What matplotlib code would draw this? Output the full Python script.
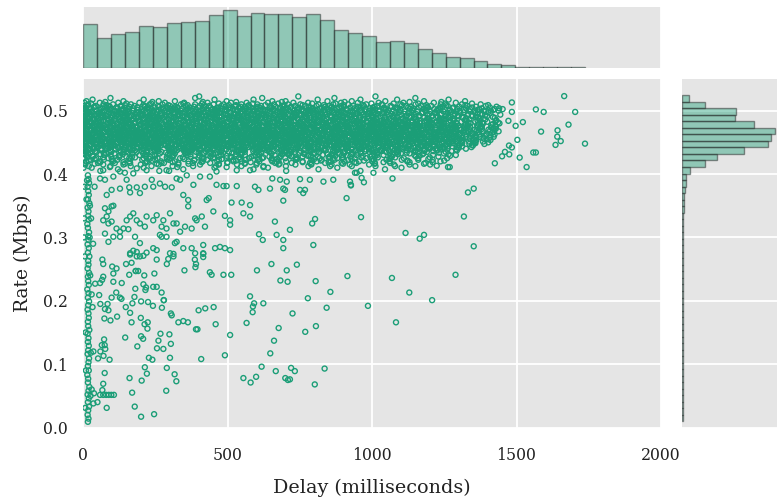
import matplotlib
matplotlib.use("Agg")
import matplotlib.pyplot as plt
import numpy as np

# ---------------- data ----------------
# dense band: one list of delays (ms) per rate level (Mbps)
BAND_RATES = [0.5225, 0.5200, 0.5175, 0.5150, 0.5125, 0.5100, 0.5075, 0.5050, 0.5025, 0.5000,
              0.4975, 0.4950, 0.4925, 0.4900, 0.4875, 0.4850, 0.4825, 0.4800, 0.4775, 0.4750,
              0.4725, 0.4700, 0.4675, 0.4650, 0.4625, 0.4600, 0.4575, 0.4550, 0.4525, 0.4500,
              0.4475, 0.4450, 0.4425, 0.4400, 0.4375, 0.4350, 0.4325, 0.4300, 0.4275, 0.4250,
              0.4225, 0.4200, 0.4175, 0.4150, 0.4125, 0.4100, 0.4075, 0.4050]
BAND_DELAYS = [
    [402, 745, 1012],
    [95, 388, 620, 1150, 870],
    [33, 210, 455, 590, 812, 960, 1087, 1265],
    [12, 140, 262, 318, 497, 655, 701, 846, 930, 1046, 1180, 1322],
    [5, 58, 122, 195, 283, 350, 431, 512, 566, 640, 728, 779, 893, 951, 1023, 1109, 1214, 1290],
    [18, 71, 104, 166, 231, 275, 339, 388, 452, 487, 548, 603, 661, 709, 752, 815, 866, 917, 980, 1034, 1098, 1151, 1238, 1311, 1376],
    [2, 44, 89, 131, 178, 214, 259, 301, 356, 404, 437, 479, 527, 571, 616, 648, 689, 734, 770, 808, 853, 894, 935, 972, 1018, 1064, 1117, 1169, 1205, 1262, 1330, 1394],
    [9, 37, 82, 115, 151, 188, 226, 248, 291, 327, 369, 398, 441, 468, 505, 539, 580, 611, 647, 683, 718, 744, 788, 826, 859, 887, 925, 961, 1003, 1042, 1081, 1125, 1163, 1194, 1236, 1281, 1347, 1408],
    [4, 26, 61, 97, 138, 159, 203, 238, 270, 312, 341, 379, 413, 446, 482, 519, 552, 588, 623, 657, 692, 725, 757, 791, 820, 849, 880, 912, 946, 978, 1011, 1049, 1090, 1132, 1178, 1215, 1252, 1296, 1339, 1371, 1425, 1452],
    [14, 48, 76, 109, 147, 172, 211, 245, 283, 306, 338, 374, 409, 430, 466, 497, 531, 560, 596, 629, 664, 697, 731, 763, 795, 831, 862, 896, 925, 958, 990, 1027, 1058, 1099, 1141, 1186, 1224, 1268, 1303, 1355, 1389, 1411, 535, 780, 1001],
    [7, 31, 66, 90, 128, 155, 191, 222, 257, 290, 318, 352, 387, 421, 449, 476, 509, 544, 575, 602, 638, 671, 703, 739, 771, 802, 838, 870, 903, 935, 966, 1009, 1053, 1094, 1137, 1174, 1219, 1274, 1318, 1366, 1402, 20, 465, 690, 884],
    [1, 39, 55, 118, 134, 180, 199, 234, 266, 297, 329, 361, 395, 438, 459, 491, 523, 551, 584, 617, 649, 681, 712, 748, 781, 813, 845, 877, 914, 951, 984, 1021, 1067, 1112, 1152, 1199, 1241, 1287, 1333, 1382, 86, 404, 626, 797, 943],
    [11, 42, 79, 101, 143, 166, 207, 241, 273, 302, 336, 370, 400, 427, 463, 500, 535, 566, 593, 627, 660, 694, 726, 756, 788, 823, 855, 889, 921, 957, 996, 1037, 1079, 1121, 1164, 1209, 1257, 1297, 1348, 1391, 230, 512, 735, 1000, 60],
    [3, 24, 68, 95, 123, 161, 185, 217, 249, 282, 315, 345, 378, 412, 443, 472, 505, 538, 570, 606, 634, 668, 699, 733, 765, 799, 830, 861, 896, 929, 961, 1004, 1045, 1086, 1129, 1181, 1228, 1263, 1311, 1359, 1418, 145, 455, 820, 1150],
    [16, 50, 83, 112, 150, 176, 213, 229, 262, 294, 323, 356, 391, 425, 456, 487, 518, 548, 581, 613, 645, 677, 707, 742, 774, 806, 843, 873, 908, 940, 974, 1014, 1061, 1103, 1146, 1193, 1245, 1281, 1326, 1372, 37, 597, 722, 989, 1234],
    [6, 35, 73, 106, 137, 169, 194, 226, 260, 288, 321, 349, 384, 417, 446, 479, 514, 546, 573, 609, 641, 673, 711, 745, 777, 809, 836, 868, 899, 932, 969, 1008, 1050, 1092, 1138, 1187, 1232, 1270, 1321, 1365, 1430, 253, 534, 864, 1116],
    [10, 45, 63, 99, 130, 158, 192, 219, 251, 285, 312, 347, 381, 406, 440, 470, 502, 529, 563, 591, 624, 657, 686, 720, 753, 783, 817, 850, 881, 916, 948, 980, 1018, 1056, 1098, 1140, 1182, 1223, 1266, 1309, 1357, 1399, 23, 368, 653, 905, 1074, 1200],
    [2, 28, 57, 87, 121, 146, 179, 208, 236, 271, 300, 331, 365, 392, 423, 458, 488, 520, 554, 579, 612, 646, 679, 714, 747, 776, 810, 842, 876, 909, 938, 971, 1006, 1043, 1084, 1125, 1167, 1210, 1249, 1294, 1341, 1385, 1441, 164, 433, 700, 955, 1031, 1106, 1258],
    [13, 40, 71, 103, 133, 163, 197, 223, 256, 291, 319, 354, 382, 414, 447, 481, 511, 541, 576, 604, 637, 670, 702, 730, 762, 794, 828, 859, 891, 924, 958, 992, 1029, 1068, 1107, 1148, 1190, 1233, 1276, 1322, 1364, 1413, 56, 305, 560, 841, 1016, 1123, 1211, 745, 487, 244],
    [4, 32, 61, 92, 125, 152, 183, 214, 244, 276, 307, 339, 372, 401, 433, 462, 497, 527, 557, 589, 622, 654, 687, 718, 751, 785, 815, 847, 880, 913, 944, 977, 1011, 1049, 1087, 1126, 1166, 1205, 1248, 1290, 1339, 1380, 1429, 20, 167, 298, 521, 610, 768, 892, 1000, 1060, 1142, 740, 410],
    [8, 37, 66, 96, 117, 140, 173, 204, 232, 263, 295, 326, 358, 389, 419, 451, 484, 513, 546, 573, 606, 639, 669, 703, 735, 767, 800, 833, 866, 899, 929, 963, 997, 1034, 1072, 1113, 1152, 1194, 1237, 1281, 1327, 1374, 1420, 50, 247, 471, 659, 787, 953, 1092, 1175, 390, 561, 880, 1016, 1262, 1303, 148],
    [1, 26, 53, 84, 111, 143, 170, 198, 227, 258, 287, 316, 347, 377, 408, 438, 468, 499, 531, 562, 593, 626, 657, 689, 722, 754, 786, 819, 853, 884, 918, 950, 985, 1021, 1057, 1096, 1135, 1178, 1219, 1263, 1308, 1356, 1403, 39, 218, 402, 584, 728, 870, 1004, 1117, 1202, 1290, 633, 335, 126, 970, 1046, 487, 805],
    [12, 43, 72, 101, 129, 158, 187, 216, 246, 274, 303, 333, 364, 394, 426, 455, 485, 516, 548, 578, 610, 642, 674, 706, 738, 771, 803, 837, 869, 902, 934, 967, 1002, 1040, 1077, 1115, 1158, 1199, 1243, 1286, 1332, 1383, 1438, 90, 265, 430, 599, 761, 921, 1025, 1145, 1230, 352, 690, 540, 1095, 180, 835, 1270, 1010],
    [5, 31, 59, 88, 120, 149, 177, 206, 237, 266, 295, 324, 355, 385, 415, 447, 476, 506, 538, 569, 601, 634, 665, 697, 729, 761, 794, 826, 860, 893, 925, 959, 993, 1030, 1066, 1104, 1143, 1185, 1227, 1270, 1317, 1365, 1415, 70, 240, 415, 570, 745, 905, 1050, 1167, 1254, 330, 655, 812, 980, 1120, 495, 160, 1345],
    [9, 35, 64, 93, 124, 153, 182, 211, 241, 270, 299, 329, 360, 390, 421, 452, 481, 511, 543, 574, 606, 638, 670, 702, 734, 766, 799, 831, 864, 896, 930, 963, 998, 1035, 1071, 1109, 1149, 1190, 1232, 1276, 1323, 1371, 1424, 18, 195, 370, 550, 717, 885, 1016, 1084, 1213, 283, 622, 780, 944, 1160, 470, 112, 1300],
    [3, 22, 57, 79, 116, 141, 167, 203, 225, 262, 281, 318, 344, 373, 405, 431, 466, 492, 527, 553, 586, 615, 649, 676, 713, 741, 772, 808, 839, 867, 901, 937, 969, 1007, 1048, 1083, 1128, 1161, 1207, 1247, 1296, 1342, 1391, 46, 187, 352, 509, 697, 858, 1030, 1138, 1222, 441, 600, 790, 953, 1100, 250],
    [14, 47, 69, 108, 131, 160, 193, 219, 252, 279, 310, 337, 366, 398, 424, 459, 487, 519, 545, 579, 608, 641, 668, 701, 733, 759, 792, 824, 855, 888, 922, 954, 988, 1024, 1062, 1101, 1143, 1181, 1225, 1267, 1313, 1361, 1409, 30, 205, 377, 534, 715, 880, 1045, 1170, 1285, 92, 620, 760, 940, 1080, 450],
    [0, 29, 51, 85, 114, 137, 174, 196, 231, 257, 289, 321, 350, 381, 412, 440, 473, 501, 534, 561, 597, 624, 658, 685, 721, 748, 781, 815, 846, 878, 910, 945, 978, 1013, 1052, 1090, 1131, 1173, 1216, 1258, 1304, 1353, 1400, 65, 232, 398, 567, 738, 898, 1038, 1157, 1237, 143, 485, 650, 830, 995, 1120],
    [8, 38, 62, 98, 126, 155, 186, 214, 243, 273, 302, 331, 362, 392, 420, 452, 483, 511, 541, 571, 603, 632, 664, 694, 727, 756, 788, 821, 851, 884, 917, 949, 983, 1019, 1057, 1096, 1137, 1179, 1221, 1265, 1311, 1358, 25, 178, 347, 521, 683, 853, 1006, 1110, 1198, 270, 577, 740, 960, 1280],
    [5, 33, 74, 91, 119, 151, 179, 208, 239, 268, 296, 328, 355, 386, 417, 445, 477, 506, 537, 566, 595, 628, 660, 690, 719, 752, 784, 817, 848, 881, 913, 947, 980, 1016, 1054, 1093, 1134, 1176, 1218, 1262, 1309, 1356, 1402, 48, 222, 390, 555, 710, 872, 1028, 1152, 1241, 130, 460, 805, 1070],
    [11, 41, 67, 104, 133, 163, 190, 221, 250, 279, 309, 340, 369, 399, 430, 461, 490, 522, 551, 582, 613, 645, 675, 707, 739, 770, 803, 834, 867, 900, 933, 965, 1000, 1037, 1075, 1115, 1156, 1199, 1243, 1289, 1337, 1389, 60, 235, 409, 586, 749, 918, 1062, 1180, 1268, 155, 500, 660, 890],
    [2, 27, 58, 82, 110, 145, 171, 200, 227, 259, 287, 317, 346, 376, 403, 436, 466, 496, 525, 556, 588, 620, 651, 683, 715, 745, 777, 811, 842, 874, 907, 940, 973, 1009, 1046, 1085, 1125, 1168, 1212, 1255, 1301, 1349, 95, 270, 440, 615, 780, 955, 1100, 1190, 520, 860],
    [15, 49, 87, 121, 157, 189, 228, 261, 294, 330, 365, 397, 434, 468, 503, 539, 574, 607, 642, 676, 711, 743, 779, 812, 846, 879, 915, 950, 987, 1025, 1066, 1108, 1151, 1196, 1242, 1293, 1344, 38, 200, 380, 548, 720, 895, 1048, 1160, 1235, 640, 970],
    [6, 40, 84, 113, 158, 188, 231, 260, 305, 333, 377, 406, 452, 479, 524, 551, 597, 625, 669, 696, 742, 767, 813, 838, 884, 911, 958, 989, 1038, 1071, 1125, 1161, 1219, 1262, 1325, 62, 245, 430, 610, 790, 965, 1105, 1200, 355],
    [21, 63, 94, 143, 170, 222, 248, 298, 325, 377, 404, 455, 480, 532, 556, 609, 636, 686, 713, 764, 788, 840, 866, 918, 944, 999, 1029, 1085, 1120, 1183, 1225, 1294, 3, 180, 360, 540, 700, 880, 1058, 1150],
    [9, 47, 98, 131, 186, 219, 271, 303, 358, 391, 444, 476, 531, 560, 617, 645, 701, 733, 788, 816, 872, 901, 960, 990, 1049, 1087, 1148, 1190, 1255, 310, 505, 720, 905, 1010, 140],
    [17, 72, 109, 171, 208, 266, 318, 355, 419, 458, 515, 549, 616, 652, 714, 763, 801, 866, 903, 962, 1018, 1061, 1130, 1178, 1249, 80, 440, 690, 930, 1100],
    [12, 75, 128, 196, 247, 314, 362, 431, 478, 547, 596, 663, 713, 781, 829, 897, 947, 1018, 1072, 1147, 1211, 240, 560, 860, 1040, 1290],
    [35, 98, 170, 232, 309, 372, 441, 512, 583, 645, 722, 788, 853, 925, 994, 1069, 1152, 1230, 150, 470, 760, 1010],
    [4, 88, 160, 258, 336, 411, 497, 575, 654, 741, 819, 897, 980, 1064, 1159, 1260, 620, 300, 880, 45, 210, 450, 700, 940, 1110],
    [27, 119, 205, 297, 385, 470, 563, 652, 737, 826, 918, 1006, 1103, 1210, 430, 790, 72, 250, 520, 605, 870, 1050, 1160],
    [11, 104, 222, 318, 414, 521, 610, 703, 809, 905, 1001, 1122, 1237, 550, 58, 160, 270, 365, 465, 655, 760, 858, 955, 1060],
    [52, 163, 272, 380, 499, 601, 722, 838, 946, 1063, 1185, 280, 5, 110, 215, 330, 440, 560, 665, 785, 895, 1010],
    [8, 140, 262, 405, 533, 677, 790, 923, 1076, 1201, 70, 200, 330, 470, 600, 735, 860, 990, 1130],
    [95, 237, 381, 548, 702, 855, 1012, 1150, 20, 165, 310, 460, 625, 780, 930, 1080],
    [30, 210, 455, 640, 880, 1102],
    [121, 347, 590, 815, 1045],
    [60, 298, 703, 960],
]

# more band points, between the rate levels above
BAND_FILL_RATES = [0.51375, 0.51125, 0.50875, 0.50625, 0.50375, 0.50125, 0.49875, 0.49625, 0.49375, 0.49125,
                   0.48875, 0.48625, 0.48375, 0.48125, 0.47875, 0.47625, 0.47375, 0.47125, 0.46875, 0.46625,
                   0.46375, 0.46125, 0.45875, 0.45625, 0.45375, 0.45125, 0.44875, 0.44625, 0.44375, 0.44125,
                   0.43875, 0.43625, 0.43375, 0.43125, 0.42875, 0.42625, 0.42375, 0.42125, 0.41875, 0.41625]
BAND_FILL_DELAYS = [
    [77, 240, 415, 688, 905, 1130, 1240, 530],
    [28, 150, 236, 347, 470, 588, 676, 793, 874, 998, 1075, 1160, 1253, 1346, 412],
    [15, 81, 146, 209, 295, 362, 419, 505, 574, 631, 697, 760, 833, 902, 968, 1036, 1104, 1188, 1257, 1323, 1402, 530],
    [40, 93, 160, 215, 264, 320, 384, 425, 493, 545, 604, 667, 720, 781, 837, 904, 950, 1009, 1068, 1134, 1191, 1244, 1302, 1360, 1431, 130, 560, 860],
    [22, 67, 120, 174, 220, 277, 318, 361, 419, 462, 511, 563, 600, 652, 705, 749, 796, 843, 895, 940, 992, 1040, 1087, 1142, 1189, 1231, 1279, 1326, 1380, 1440, 680, 300],
    [8, 57, 92, 133, 190, 228, 262, 321, 358, 390, 448, 492, 525, 577, 613, 660, 701, 741, 785, 834, 870, 913, 963, 1004, 1047, 1096, 1140, 1184, 1228, 1270, 1318, 1366, 1420, 460, 812],
    [30, 71, 118, 160, 201, 242, 297, 330, 365, 402, 456, 489, 550, 588, 631, 682, 716, 760, 808, 850, 891, 933, 976, 1024, 1071, 1113, 1159, 1201, 1247, 1291, 1338, 1388, 15, 572, 1000],
    [12, 53, 98, 148, 186, 217, 270, 312, 341, 382, 432, 470, 511, 568, 607, 643, 692, 731, 770, 825, 866, 907, 947, 990, 1035, 1080, 1126, 1171, 1216, 1263, 1306, 1357, 1410, 240, 780],
    [25, 65, 108, 153, 196, 254, 283, 327, 374, 410, 450, 494, 538, 580, 620, 665, 709, 753, 797, 839, 885, 926, 969, 1012, 1057, 1101, 1145, 1193, 1238, 1285, 1331, 1380, 1444, 120, 690],
    [4, 47, 85, 130, 176, 225, 259, 305, 352, 391, 437, 480, 516, 559, 604, 646, 686, 727, 773, 816, 861, 902, 944, 988, 1030, 1074, 1118, 1163, 1207, 1254, 1300, 1346, 1398, 330, 900],
    [19, 62, 100, 141, 190, 235, 276, 314, 359, 403, 448, 497, 533, 571, 618, 658, 702, 741, 786, 830, 875, 917, 955, 1001, 1043, 1088, 1133, 1178, 1222, 1266, 1315, 1367, 1425, 540, 260],
    [9, 41, 90, 126, 168, 208, 250, 298, 333, 376, 420, 461, 506, 545, 590, 632, 673, 716, 760, 799, 843, 888, 929, 972, 1017, 1060, 1106, 1150, 1196, 1240, 1284, 1337, 1392, 600, 870],
    [27, 71, 113, 147, 195, 238, 266, 309, 349, 394, 431, 474, 520, 556, 600, 641, 683, 731, 767, 812, 856, 895, 937, 981, 1026, 1066, 1111, 1155, 1200, 1238, 1282, 1327, 1374, 1428, 5, 464, 700, 1090],
    [14, 52, 94, 135, 180, 214, 255, 296, 340, 377, 419, 459, 498, 540, 584, 626, 664, 707, 749, 790, 831, 873, 914, 957, 998, 1040, 1081, 1123, 1164, 1206, 1247, 1290, 1334, 1382, 1436, 230, 560, 830, 1015, 1190],
    [6, 46, 81, 118, 157, 197, 236, 277, 318, 357, 395, 437, 474, 516, 553, 594, 633, 675, 713, 755, 793, 835, 874, 915, 953, 994, 1035, 1075, 1116, 1157, 1198, 1240, 1282, 1325, 1370, 1418, 140, 420, 690, 960, 1100, 1230],
    [20, 58, 95, 136, 172, 210, 251, 289, 327, 368, 406, 445, 484, 524, 565, 603, 642, 681, 720, 760, 800, 838, 877, 917, 956, 996, 1037, 1078, 1119, 1160, 1201, 1243, 1287, 1331, 1377, 1427, 75, 350, 620, 900, 1050, 1175, 1300, 500],
    [3, 41, 77, 112, 150, 188, 225, 264, 301, 338, 376, 414, 452, 491, 529, 568, 606, 645, 684, 723, 761, 800, 838, 877, 915, 954, 993, 1032, 1071, 1111, 1151, 1192, 1234, 1276, 1320, 1365, 1412, 230, 470, 720, 980, 1140, 1255, 95, 590, 860],
    [13, 49, 86, 121, 159, 194, 232, 268, 305, 342, 379, 417, 454, 490, 527, 565, 601, 638, 676, 713, 749, 787, 825, 862, 899, 937, 975, 1013, 1052, 1090, 1129, 1169, 1209, 1250, 1292, 1335, 1380, 1428, 260, 505, 770, 1000, 1170, 1270, 60, 640, 880, 1110],
    [29, 66, 101, 139, 176, 213, 250, 286, 323, 361, 398, 435, 472, 509, 547, 584, 621, 659, 696, 733, 771, 809, 846, 884, 921, 959, 998, 1036, 1075, 1114, 1153, 1193, 1234, 1275, 1318, 1362, 1409, 10, 190, 440, 700, 950, 1130, 1240, 340, 590, 820, 1060],
    [2, 39, 75, 110, 148, 185, 221, 258, 294, 331, 369, 405, 442, 479, 516, 553, 590, 628, 664, 702, 739, 776, 814, 851, 889, 927, 965, 1003, 1042, 1081, 1120, 1160, 1200, 1241, 1283, 1326, 1371, 1420, 120, 375, 620, 870, 1100, 1215, 285, 530, 780, 1020],
    [18, 56, 93, 129, 167, 202, 240, 277, 313, 350, 388, 424, 461, 498, 535, 572, 609, 647, 684, 721, 758, 795, 833, 871, 908, 946, 984, 1022, 1061, 1100, 1140, 1180, 1220, 1262, 1305, 1349, 1396, 35, 225, 490, 745, 990, 1160, 1290, 400, 660, 905, 1075],
    [7, 45, 82, 119, 157, 193, 230, 268, 304, 342, 379, 416, 453, 490, 528, 565, 602, 640, 677, 714, 752, 790, 827, 865, 903, 941, 980, 1018, 1057, 1096, 1136, 1176, 1217, 1259, 1302, 1347, 1395, 150, 410, 670, 935, 1140, 1250, 560, 300, 1020],
    [24, 61, 98, 136, 173, 210, 247, 285, 322, 359, 396, 433, 471, 508, 545, 583, 620, 657, 695, 732, 770, 808, 845, 883, 921, 960, 998, 1037, 1076, 1116, 1156, 1197, 1238, 1281, 1325, 1372, 1421, 80, 345, 600, 860, 1090, 1205, 465, 720, 975],
    [1, 34, 71, 108, 145, 182, 219, 256, 294, 331, 368, 405, 442, 480, 517, 554, 592, 629, 666, 704, 741, 779, 817, 855, 893, 931, 970, 1009, 1048, 1087, 1127, 1167, 1208, 1250, 1293, 1338, 1386, 200, 455, 715, 960, 1150, 1275, 590, 330, 845],
    [15, 53, 90, 127, 164, 201, 238, 276, 313, 350, 387, 424, 462, 499, 536, 574, 611, 648, 686, 723, 761, 799, 836, 874, 912, 951, 989, 1028, 1067, 1107, 1147, 1188, 1229, 1271, 1315, 1361, 1410, 105, 370, 630, 895, 1110, 1230, 500, 770],
    [30, 66, 103, 141, 178, 215, 252, 290, 327, 364, 401, 439, 476, 513, 551, 588, 625, 663, 700, 738, 776, 813, 851, 890, 928, 967, 1006, 1045, 1085, 1125, 1165, 1206, 1248, 1291, 1336, 1384, 10, 260, 520, 790, 1040, 1195, 1310, 410, 690],
    [5, 43, 80, 117, 155, 192, 229, 266, 304, 341, 378, 416, 453, 490, 528, 565, 603, 640, 678, 716, 753, 791, 829, 867, 906, 944, 983, 1022, 1062, 1102, 1142, 1183, 1225, 1268, 1312, 1358, 175, 440, 705, 965, 1160, 1280, 600, 330],
    [21, 59, 97, 135, 172, 210, 247, 285, 323, 360, 398, 436, 474, 511, 549, 587, 625, 663, 701, 739, 777, 815, 854, 892, 931, 970, 1009, 1049, 1089, 1130, 1171, 1213, 1256, 1300, 1346, 60, 320, 580, 840, 1080, 1235, 470],
    [11, 52, 92, 133, 174, 214, 255, 296, 336, 377, 418, 459, 499, 540, 581, 622, 663, 704, 745, 786, 828, 869, 911, 953, 995, 1038, 1081, 1125, 1170, 1216, 1263, 1312, 230, 500, 770, 1020, 1190, 650],
    [34, 78, 122, 165, 209, 253, 297, 340, 384, 428, 472, 516, 560, 604, 648, 692, 736, 781, 825, 870, 915, 960, 1006, 1052, 1099, 1147, 1196, 1247, 1300, 5, 380, 600, 880, 1120, 250],
    [18, 66, 113, 161, 209, 256, 304, 352, 400, 448, 496, 544, 592, 640, 688, 736, 784, 833, 881, 930, 979, 1029, 1079, 1130, 1182, 1236, 1291, 140, 430, 720, 990, 560],
    [42, 96, 151, 205, 260, 315, 369, 424, 479, 534, 589, 644, 699, 754, 809, 865, 921, 977, 1034, 1092, 1151, 1212, 1275, 8, 350, 660, 940, 1180],
    [25, 90, 156, 221, 287, 353, 419, 485, 551, 617, 683, 749, 816, 883, 950, 1018, 1087, 1158, 1232, 400, 800, 1120, 170, 600],
    [60, 138, 216, 294, 372, 451, 530, 609, 688, 767, 847, 927, 1008, 1090, 1175, 1265, 5, 450, 860, 300],
    [33, 125, 218, 311, 404, 497, 590, 684, 778, 873, 968, 1065, 1165, 1270, 250, 720, 1000],
    [70, 180, 290, 400, 512, 624, 737, 850, 964, 1080, 1200, 15, 540, 900, 125, 345, 455, 680, 795, 1020],
    [40, 165, 291, 417, 544, 672, 800, 929, 1060, 1195, 350, 740, 100, 230, 480, 610, 865, 1000],
    [100, 240, 385, 530, 676, 823, 972, 1123, 1250, 20],
    [60, 220, 410, 580, 760, 940, 1130, 310, 140, 500, 670, 850, 1040, 1210],
    [145, 365, 560, 790, 1010, 1180, 40, 255, 470, 680, 900],
]

# scattered points outside the dense band (delay ms, rate Mbps)
OUT_DELAY = [
    1665, 1567, 1594, 1703, 1680, 1642, 1585, 1641, 1653, 1635, 1737, 1558, 1567, 1522, 1511, 1535,
    1484, 1484, 1497, 1503, 1484, 1475, 1425, 1450, 1460, 1474, 1438, 1472,
    1071, 964, 972, 941, 1005, 927, 962, 1116, 1165, 1180, 1318, 1332, 1352, 1352, 1263, 1269, 1224,
    1069, 1129, 1208, 1289, 986, 1083,
    67, 70, 101, 116, 105, 163, 186, 174, 160, 149, 168, 183, 209, 220, 255, 247, 290, 295, 313,
    351, 387, 391, 389, 416, 416, 439, 445, 486, 513, 652, 602, 705, 740, 683, 708, 805, 915,
    578, 592, 588, 587, 624, 566, 677, 661, 648, 725, 769, 806, 843, 778, 856,
    509, 491, 459, 452, 423, 400, 409, 391, 396, 363, 347, 330, 304, 307, 279, 272, 243, 255, 218, 216, 209, 212,
    618, 555, 580, 599, 667, 700, 709, 716, 720, 733, 802, 836, 290, 317, 323, 288, 221, 214, 203, 161, 170,
    179, 201, 246, 82, 75, 70, 67, 59, 70, 80, 89, 98, 107, 50, 36, 38,
    74, 95, 118, 73, 75, 65, 77, 60, 71, 92, 52, 146, 201, 208, 188, 228, 240, 261, 268, 299, 304, 256, 278,
    301, 213, 224, 223, 200, 168, 242, 273, 280, 171, 163, 148, 201, 225, 178, 181, 133, 128, 115, 99, 85,
    76, 88, 60, 56, 42, 59, 66, 70, 105, 134, 182, 191,
    70, 93, 128, 145, 174, 186, 220, 264, 289, 326, 359, 405, 439, 462, 497, 532, 578, 624, 655, 682,
    705, 751, 785, 832, 866, 924, 947,
    59, 76, 105, 99, 82, 128, 151, 160, 163, 186, 197, 214, 238, 243, 266, 284, 307, 324, 336, 347, 364,
    364, 382, 428, 435, 462, 486, 497, 514, 532, 549, 555, 578, 578, 595, 607, 609, 622, 647, 670, 664,
    693, 693, 693, 693, 699, 716, 751, 762, 768, 797, 803, 793, 912, 927,
    76, 88, 99, 105, 82, 70, 88, 99, 116, 128, 140, 157, 163, 174, 151, 186, 197, 214, 220, 243, 255,
    272, 278, 289, 301, 313, 324, 336, 353, 376, 388, 393, 411, 422, 451, 491, 509, 509,
    76, 88, 105, 128, 180, 197, 243, 266, 272, 289, 318, 324, 347, 376, 388, 416, 416, 457, 474, 491,
    509, 163, 186, 197, 255, 301, 313,
]
OUT_RATE = [
    0.523, 0.502, 0.498, 0.498, 0.478, 0.469, 0.467, 0.459, 0.452, 0.446, 0.448, 0.434, 0.434, 0.482, 0.426, 0.411,
    0.513, 0.498, 0.476, 0.454, 0.442, 0.431, 0.417, 0.428, 0.435, 0.445, 0.500, 0.484,
    0.393, 0.394, 0.387, 0.402, 0.402, 0.382, 0.332, 0.307, 0.298, 0.304, 0.333, 0.371, 0.377, 0.286, 0.411, 0.411, 0.413,
    0.236, 0.213, 0.201, 0.241, 0.192, 0.166,
    0.265, 0.258, 0.254, 0.251, 0.243, 0.273, 0.270, 0.279, 0.241, 0.258, 0.260, 0.247, 0.271, 0.276, 0.265, 0.243, 0.258, 0.266, 0.274,
    0.248, 0.265, 0.258, 0.253, 0.274, 0.269, 0.245, 0.241, 0.241, 0.241, 0.258, 0.248, 0.248, 0.257, 0.232, 0.230, 0.231, 0.239,
    0.207, 0.196, 0.191, 0.182, 0.196, 0.165, 0.157, 0.137, 0.117, 0.180, 0.151, 0.160, 0.189, 0.204, 0.214,
    0.146, 0.114, 0.163, 0.190, 0.188, 0.185, 0.108, 0.155, 0.155, 0.166, 0.168, 0.166, 0.180, 0.177, 0.201, 0.213, 0.222, 0.222, 0.221, 0.217, 0.226, 0.240,
    0.096, 0.078, 0.071, 0.080, 0.089, 0.078, 0.075, 0.076, 0.094, 0.089, 0.068, 0.093, 0.094, 0.084, 0.073, 0.058, 0.085, 0.095, 0.074, 0.078, 0.055,
    0.033, 0.017, 0.021, 0.031, 0.086, 0.069, 0.059, 0.0515, 0.0515, 0.0515, 0.0515, 0.0515, 0.0515, 0.040, 0.038, 0.054,
    0.172, 0.169, 0.175, 0.139, 0.130, 0.130, 0.124, 0.120, 0.113, 0.107, 0.109, 0.142, 0.144, 0.140, 0.128, 0.110, 0.107, 0.137, 0.148, 0.147, 0.132, 0.125, 0.124,
    0.110, 0.163, 0.166, 0.156, 0.173, 0.166, 0.192, 0.189, 0.201, 0.196, 0.181, 0.190, 0.199, 0.198, 0.206, 0.219, 0.203, 0.205, 0.213, 0.205, 0.195,
    0.187, 0.185, 0.195, 0.209, 0.227, 0.228, 0.233, 0.238, 0.230, 0.228, 0.247, 0.247,
    0.406, 0.411, 0.404, 0.402, 0.401, 0.409, 0.406, 0.405, 0.406, 0.411, 0.398, 0.396, 0.396, 0.404, 0.411, 0.406, 0.406, 0.411, 0.393, 0.391,
    0.388, 0.392, 0.391, 0.388, 0.391, 0.388, 0.402,
    0.393, 0.391, 0.396, 0.375, 0.367, 0.377, 0.391, 0.379, 0.371, 0.379, 0.370, 0.380, 0.391, 0.380, 0.385, 0.380, 0.379, 0.393, 0.391, 0.367, 0.359,
    0.349, 0.383, 0.359, 0.362, 0.383, 0.381, 0.381, 0.355, 0.381, 0.355, 0.338, 0.351, 0.333, 0.380, 0.375, 0.305, 0.296, 0.377, 0.304, 0.325,
    0.377, 0.358, 0.296, 0.283, 0.375, 0.312, 0.375, 0.370, 0.375, 0.288, 0.329, 0.322, 0.362, 0.383,
    0.346, 0.341, 0.349, 0.350, 0.333, 0.327, 0.322, 0.325, 0.314, 0.309, 0.314, 0.313, 0.333, 0.338, 0.327, 0.327, 0.322, 0.317, 0.333, 0.327, 0.335,
    0.317, 0.327, 0.314, 0.338, 0.322, 0.322, 0.309, 0.317, 0.314, 0.330, 0.327, 0.333, 0.317, 0.341, 0.334, 0.327, 0.320,
    0.306, 0.293, 0.301, 0.301, 0.301, 0.291, 0.283, 0.304, 0.301, 0.301, 0.291, 0.293, 0.283, 0.283, 0.275, 0.288, 0.275, 0.283, 0.285, 0.283,
    0.280, 0.275, 0.277, 0.270, 0.280, 0.275, 0.270,
]

# near-zero-delay column
STRIPE_RATE = [0.009, 0.014, 0.020, 0.027, 0.033, 0.040, 0.046, 0.052, 0.058, 0.064, 0.071, 0.077, 0.083, 0.090,
               0.097, 0.103, 0.109, 0.116, 0.122, 0.129, 0.135, 0.141, 0.148, 0.154, 0.160, 0.167, 0.173, 0.180,
               0.186, 0.193, 0.199, 0.205, 0.212, 0.218, 0.225, 0.231, 0.238, 0.244, 0.251, 0.257, 0.263, 0.270,
               0.276, 0.283, 0.289, 0.296, 0.302, 0.308, 0.315, 0.321, 0.328, 0.334, 0.341, 0.347, 0.354, 0.360,
               0.367, 0.373, 0.380, 0.386, 0.392, 0.398,
               0.031, 0.060, 0.118, 0.150, 0.190, 0.240, 0.270, 0.290, 0.330, 0.360, 0.380, 0.350, 0.210, 0.090,
               0.050, 0.120, 0.300, 0.390, 0.330, 0.410, 0.300, 0.380]
STRIPE_DELAY = [17, 19, 16, 18, 21, 17, 20, 16, 19, 22, 17, 18, 15, 20, 17, 19, 21, 16, 18, 20, 17, 19, 16, 22,
                18, 17, 20, 19, 16, 18, 21, 17, 19, 15, 20, 18, 17, 21, 16, 19, 18, 22, 17, 20, 16, 19, 18, 21,
                17, 15, 20, 18, 19, 16, 22, 17, 20, 18, 16, 21, 19, 17,
                8, 30, 27, 9, 33, 25, 6, 35, 28, 12, 40, 24, 30, 10, 26, 36, 23, 14, 4, 2, 3, 5]

# marginal histograms (counts)
TOP_BIN_EDGES_RANGE = (1, 1737)
TOP_COUNTS = [260, 174, 200, 212, 248, 242, 268, 274, 278, 316, 344, 306, 324, 320, 320, 300, 320, 284,
              224, 206, 188, 152, 158, 146, 110, 86, 64, 58, 40, 20, 14, 4, 2, 2, 2, 2]
RIGHT_BIN_EDGES_RANGE = (0.0095, 0.5244)
RIGHT_COUNTS_TOP_DOWN = [67, 227, 537, 527, 717, 927, 887, 857, 620, 350, 227, 77, 43, 39, 30, 23, 17, 15,
                         14, 13, 12, 12, 11, 11, 10, 10, 10, 9, 9, 9, 8, 8, 8, 8, 7, 7, 7, 7, 7, 6, 6, 6,
                         6, 6, 6, 5, 5, 5, 5, 5]

X_TICKS = [0, 500, 1000, 1500, 2000]
Y_TICKS = [0.0, 0.1, 0.2, 0.3, 0.4, 0.5]

# ---------------- assemble ----------------
xs, ys = [], []
for rates, delays in ((BAND_RATES, BAND_DELAYS), (BAND_FILL_RATES, BAND_FILL_DELAYS)):
    for r, ds in zip(rates, delays):
        xs.extend(ds)
        ys.extend([r] * len(ds))
xs.extend(OUT_DELAY); ys.extend(OUT_RATE)
xs.extend(STRIPE_DELAY); ys.extend(STRIPE_RATE)

GREEN = "#1b9e77"
BG = "#e5e5e5"
plt.rcParams["font.family"] = ["DejaVu Serif"]

W, H = 777, 499
fig = plt.figure(figsize=(W / 100, H / 100), dpi=100)

def frac(l, t, r, b):
    return [l / W, 1 - b / H, (r - l) / W, (b - t) / H]

ax = fig.add_axes(frac(83, 79, 661, 427.5))
axt = fig.add_axes(frac(83, 7, 661, 67.5))
axr = fig.add_axes(frac(682, 79, 780, 427.5))

for a in (ax, axt, axr):
    a.set_facecolor(BG)
    for s in a.spines.values():
        s.set_visible(False)
    a.set_axisbelow(True)

ax.scatter(xs, ys, s=13, facecolors="none", edgecolors=GREEN, linewidths=1.0, zorder=3)
ax.set_xlim(0, 2000)
ax.set_ylim(0, 0.55)
ax.set_xticks(X_TICKS)
ax.set_yticks(Y_TICKS)
ax.set_yticklabels([f"{v:.1f}" for v in Y_TICKS])
ax.grid(True, color="white", linewidth=1.3)
ax.tick_params(length=0, labelsize=11.3, colors="#222222")
ax.tick_params(axis="x", pad=14)
ax.tick_params(axis="y", pad=11)
ax.set_xlabel("Delay (milliseconds)", fontsize=13.8, labelpad=11, color="#222222")
ax.set_ylabel("Rate (Mbps)", fontsize=13.5, labelpad=8, color="#222222")

face = (27 / 255, 158 / 255, 119 / 255, 0.42)
edge = (0.15, 0.15, 0.15, 0.5)

t_edges = np.linspace(TOP_BIN_EDGES_RANGE[0], TOP_BIN_EDGES_RANGE[1], len(TOP_COUNTS) + 1)
axt.bar(t_edges[:-1], TOP_COUNTS, width=np.diff(t_edges), align="edge",
        facecolor=face, edgecolor=edge, linewidth=1.0, zorder=3)
axt.set_xlim(0, 2000)
axt.set_ylim(0, max(TOP_COUNTS) * 1.05)
axt.set_xticks(X_TICKS)
axt.grid(True, axis="x", color="white", linewidth=1.3)
axt.tick_params(length=0, labelbottom=False, labelleft=False)

r_counts = RIGHT_COUNTS_TOP_DOWN[::-1]
r_edges = np.linspace(RIGHT_BIN_EDGES_RANGE[0], RIGHT_BIN_EDGES_RANGE[1], len(r_counts) + 1)
axr.barh(r_edges[:-1], r_counts, height=np.diff(r_edges), align="edge",
         facecolor=face, edgecolor=edge, linewidth=1.0, zorder=3)
axr.set_ylim(0, 0.55)
axr.set_xlim(0, max(r_counts) * 1.05)
axr.set_yticks(Y_TICKS)
axr.grid(True, axis="y", color="white", linewidth=1.3)
axr.tick_params(length=0, labelbottom=False, labelleft=False)

fig.savefig("out.png", dpi=100)
